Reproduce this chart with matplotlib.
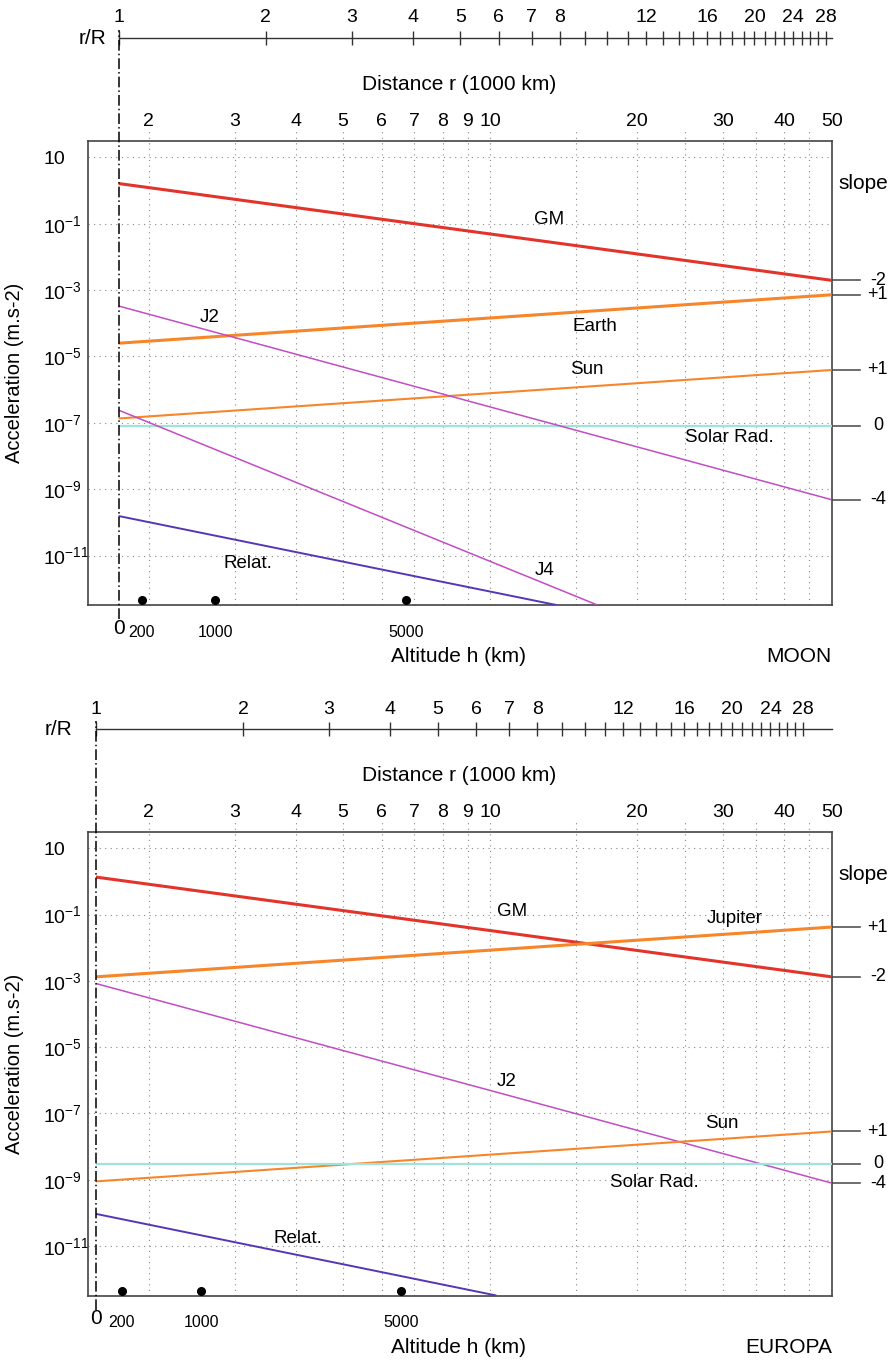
import numpy as np
import matplotlib
matplotlib.use('Agg')
import matplotlib.pyplot as plt
from matplotlib.ticker import FixedLocator, NullLocator, FuncFormatter

plt.rcParams['font.family'] = ['Liberation Sans', 'DejaVu Sans']

# axis data (distance r in 1000 km)
dist_ticks = [2, 3, 4, 5, 6, 7, 8, 9, 10, 20, 30, 40, 50]
dist_grid = [2, 3, 4, 5, 6, 7, 8, 9, 10, 15, 20, 25, 30, 35, 40, 45]
rr_ticks = list(range(1, 29))
rr_labels = [1, 2, 3, 4, 5, 6, 7, 8, 12, 16, 20, 24, 28]
acc_ticks = [1e1, 1e-1, 1e-3, 1e-5, 1e-7, 1e-9, 1e-11]
alt_marks = [200, 1000, 5000]   # km

# Moon
moon_R = 1.737
moon_series = ['GM', 'Earth', 'Sun', 'Solar Rad.', 'J2', 'J4', 'Relat.']
moon_r_end = [50, 50, 50, 50, 50, 16.6, 13.7]
moon_acc_start = [1.62, 2.5e-5, 1.35e-7, 8.1e-8, 3.3e-4, 2.4e-7, 1.55e-10]
moon_acc_end = [1.96e-3, 7.2e-4, 3.9e-6, 8.1e-8, 4.8e-10, 3.2e-13, 3.2e-13]
moon_slopes = ['-2', '+1', '+1', '0', '-4', '', '']
moon_label_r = [13.2, 16.4, 15.8, 30.9, 2.67, 12.9, 3.2]
moon_label_acc = [0.129, 7.7e-5, 4e-6, 3.7e-8, 1.44e-4, 3.5e-12, 5.7e-12]

# Europa
europa_R = 1.561
europa_series = ['GM', 'Jupiter', 'J2', 'Sun', 'Solar Rad.', 'Relat.']
europa_r_end = [50, 50, 50, 50, 50, 10.3]
europa_acc_start = [1.35, 1.32e-3, 8.3e-4, 8.9e-10, 3.0e-9, 9.3e-11]
europa_acc_end = [1.32e-3, 4.2e-2, 7.9e-10, 2.85e-8, 3.0e-9, 3.2e-13]
europa_slopes = ['-2', '+1', '-4', '+1', '0', '']
europa_label_r = [11.1, 31.6, 10.8, 29.8, 21.7, 4.04]
europa_label_acc = [0.12, 0.078, 9.3e-7, 5e-8, 8.5e-10, 1.66e-11]

styles = {
    'GM': ('#e2342a', 2.2),
    'Earth': ('#f7862a', 2.2),
    'Jupiter': ('#f7862a', 2.2),
    'Sun': ('#f7862a', 1.5),
    'Solar Rad.': ('#9fe3db', 1.6),
    'J2': ('#c24cc4', 1.1),
    'J4': ('#c24cc4', 1.1),
    'Relat.': ('#5636b4', 1.4),
}


def acc_fmt(v, pos):
    e = int(round(np.log10(v)))
    if e == 1:
        return '10'
    return r'$\mathregular{10^{%d}}$' % e


def draw_panel(ax, R, names, r_end, acc_start, acc_end, slopes, lab_r, lab_acc,
               body, rr_lab_x):
    ax.set_xscale('log')
    ax.set_yscale('log')
    ax.set_xlim(1.5, 50)
    ax.set_ylim(10 ** -12.5, 10 ** 1.5)

    # top distance scale
    ax.xaxis.tick_top()
    ax.xaxis.set_major_locator(FixedLocator(dist_ticks))
    ax.xaxis.set_minor_locator(NullLocator())
    ax.xaxis.set_major_formatter(FuncFormatter(lambda v, p: '%d' % round(v)))
    ax.tick_params(axis='x', length=0, labelsize=14, pad=8)

    ax.yaxis.set_major_locator(FixedLocator(acc_ticks))
    ax.yaxis.set_minor_locator(NullLocator())
    ax.yaxis.set_major_formatter(FuncFormatter(acc_fmt))
    ax.tick_params(axis='y', length=0, labelsize=14, pad=32)
    for lab in ax.get_yticklabels():
        lab.set_horizontalalignment('left')
    ax.yaxis.grid(True, color='#888888', lw=0.8, linestyle=(0, (1, 4)))
    ax.vlines(dist_grid, 0, 1.022, transform=ax.get_xaxis_transform(),
              colors='#888888', lw=0.8, linestyles=(0, (1, 4)), clip_on=False, zorder=1)

    for s in ax.spines.values():
        s.set_color('#444444')
        s.set_linewidth(1.2)

    ax.set_ylabel('Acceleration (m.s-2)', fontsize=14.5)
    ax.yaxis.set_label_coords(-0.085, 0.5)

    # curves
    for i, name in enumerate(names):
        col, lw = styles[name]
        ax.plot([R, r_end[i]], [acc_start[i], acc_end[i]], color=col, lw=lw,
                solid_capstyle='butt', zorder=3)
        ax.text(lab_r[i], lab_acc[i], name, fontsize=13.5, ha='center', va='center',
                zorder=4)
        if slopes[i]:
            ax.plot([1.0, 1.038], [acc_end[i], acc_end[i]],
                    transform=ax.get_yaxis_transform(), color='#555555', lw=1.2,
                    clip_on=False)
            ax.text(1.062, acc_end[i], slopes[i], transform=ax.get_yaxis_transform(),
                    fontsize=13, ha='center', va='center')
    ax.text(1.043, 0.907, 'slope', transform=ax.transAxes, fontsize=15,
            ha='center', va='center')

    # surface line
    ax.plot([R, R], [-0.03, 1.238], transform=ax.get_xaxis_transform(), color='black',
            lw=1.1, linestyle=(0, (7, 2, 1, 2)), clip_on=False, zorder=5)

    # altitude marks
    alt_r = [R + h / 1000 for h in alt_marks]
    ax.plot(alt_r, [0.011] * len(alt_r), 'o', color='black', ms=5.5,
            transform=ax.get_xaxis_transform(), clip_on=False, zorder=5)
    ax.text(R, -0.049, '0', transform=ax.get_xaxis_transform(), fontsize=15,
            ha='center', va='center')
    for h, r in zip(alt_marks, alt_r):
        ax.text(r, -0.058, str(h), transform=ax.get_xaxis_transform(), fontsize=11.5,
                ha='center', va='center')
    ax.text(0.499, -0.111, 'Altitude h (km)', transform=ax.transAxes, fontsize=15,
            ha='center', va='center')
    ax.text(1.0, -0.111, body, transform=ax.transAxes, fontsize=15,
            ha='right', va='center')

    ax.text(0.499, 1.122, 'Distance r (1000 km)', transform=ax.transAxes, fontsize=15,
            ha='center', va='center')

    # r/R scale
    sec = ax.secondary_xaxis(1.2205, functions=(lambda r: r / R, lambda n: n * R))
    sec.xaxis.set_major_locator(FixedLocator(rr_ticks))
    sec.xaxis.set_minor_locator(NullLocator())
    sec.xaxis.set_major_formatter(
        FuncFormatter(lambda v, p: '%d' % round(v) if round(v) in rr_labels else ''))
    sec.tick_params(axis='x', direction='inout', length=10, width=1, labelsize=14,
                    pad=3.5, color='#333333')
    sec.spines['top'].set_bounds(1, 50 / R)
    sec.spines['top'].set_color('#333333')
    sec.spines['top'].set_linewidth(1)
    ax.text(rr_lab_x, 1.2205, 'r/R', transform=ax.transAxes, fontsize=15,
            ha='right', va='center')


fig = plt.figure(figsize=(8.96, 13.61), dpi=100)
ax1 = fig.add_axes([0.09766, 0.55525, 0.83058, 0.34137])
ax2 = fig.add_axes([0.09766, 0.04798, 0.83058, 0.34093])

draw_panel(ax1, moon_R, moon_series, moon_r_end, moon_acc_start, moon_acc_end,
           moon_slopes, moon_label_r, moon_label_acc, 'MOON', 0.026)
draw_panel(ax2, europa_R, europa_series, europa_r_end, europa_acc_start, europa_acc_end,
           europa_slopes, europa_label_r, europa_label_acc, 'EUROPA', -0.021)

fig.savefig('out.png', dpi=100)
